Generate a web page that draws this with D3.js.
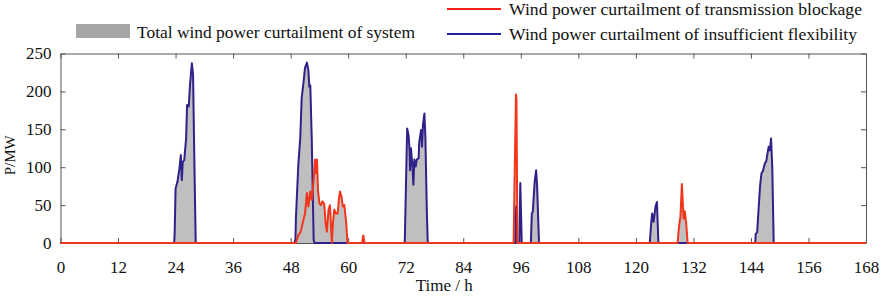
<!DOCTYPE html>
<html>
<head>
<meta charset="utf-8">
<script src="https://cdn.jsdelivr.net/npm/d3@7"></script>
<style>
    body { margin: 0; background: #fff; }
    #chart-area { width: 886px; height: 297px; }
    text { font-family: "Liberation Serif", "Times New Roman", serif; fill: #111; }
</style>
</head>
<body>
<div id="chart-area"></div>
<script>
// x ticks (hours) and y ticks (MW)
const xTicks = [0, 12, 24, 36, 48, 60, 72, 84, 96, 108, 120, 132, 144, 156, 168];
const yTicks = [0, 50, 100, 150, 200, 250];

// wind power curtailment of insufficient flexibility: [hour, MW]
const flexData = [
    [0, 0],
    [23.7, 0], [23.8, 10], [24.0, 72], [24.4, 81], [24.8, 98], [25.1, 116], [25.3, 83], [25.5, 107],
    [25.8, 109], [26.2, 138], [26.4, 182], [26.75, 180], [27.0, 208], [27.4, 237], [27.65, 222],
    [27.9, 116], [28.2, 0],
    [48.8, 0], [49.0, 5], [49.1, 33], [49.6, 103], [50.0, 138], [50.3, 191], [50.7, 213], [51.0, 231],
    [51.4, 238], [51.7, 228], [51.9, 206], [52.1, 208], [52.4, 138], [52.8, 4], [53.0, 0],
    [71.8, 0], [72.3, 151], [72.6, 142], [72.8, 123], [72.9, 96], [73.1, 125], [73.4, 101], [73.6, 77],
    [73.8, 110], [74.1, 101], [74.3, 110], [74.7, 112], [74.8, 132], [75.2, 149], [75.4, 127],
    [75.6, 156], [75.9, 171], [76.1, 140], [76.4, 44], [76.6, 0],
    [94.85, 0], [95.05, 48], [95.2, 0], [95.7, 0], [95.9, 79], [96.2, 0],
    [98.1, 0], [98.3, 39], [98.5, 41], [98.9, 81], [99.2, 96], [99.4, 76], [99.8, 0],
    [122.9, 0], [123.2, 26], [123.4, 39], [123.7, 28], [124.1, 48], [124.4, 54], [124.7, 0],
    [144.9, 0], [145.0, 12], [145.3, 14], [145.5, 35], [145.9, 75], [146.2, 92], [146.5, 95],
    [146.9, 105], [147.2, 108], [147.5, 120], [147.7, 127], [147.95, 122], [148.2, 138],
    [148.45, 100], [148.75, 0],
    [168, 0]
];

// wind power curtailment of transmission blockage: [hour, MW]
const blockData = [
    [0, 0],
    [49.07, 0], [49.6, 10], [50.1, 15], [50.5, 26], [51.0, 39], [51.4, 66], [51.7, 48], [52.1, 68],
    [52.4, 57], [52.8, 83], [53.1, 110], [53.3, 92], [53.5, 110], [53.7, 70], [54.0, 52], [54.3, 50],
    [54.6, 55], [55.0, 52], [55.3, 26], [55.55, 15], [55.9, 44], [56.2, 50], [56.6, 0], [56.8, 26],
    [57.1, 44], [57.4, 39], [57.8, 39], [58.05, 57], [58.3, 68], [58.6, 61], [58.9, 48], [59.2, 50],
    [59.6, 26], [59.85, 0],
    [62.9, 0], [63.15, 10], [63.4, 0],
    [94.5, 0], [94.8, 120], [95.0, 196], [95.1, 190], [95.3, 0],
    [128.7, 0], [129.0, 22], [129.3, 35], [129.6, 78], [129.95, 32], [130.2, 42], [130.5, 26], [130.8, 0],
    [168, 0]
];

const legendLabels = [
    "Total wind power curtailment of system",
    "Wind power curtailment of transmission blockage",
    "Wind power curtailment of insufficient flexibility"
];

class CurtailmentChart {
    constructor(parentElement) {
        this.parentElement = parentElement;
        this.initVis();
    }

    initVis() {
        let vis = this;

        vis.margin = {top: 53.5, right: 20, bottom: 54, left: 60.5};
        vis.width = 886 - vis.margin.left - vis.margin.right;
        vis.height = 297 - vis.margin.top - vis.margin.bottom;

        vis.root = d3.select("#" + vis.parentElement).append("svg")
            .attr("width", 886)
            .attr("height", 297);

        vis.svg = vis.root.append("g")
            .attr("transform", `translate(${vis.margin.left}, ${vis.margin.top})`);

        vis.x = d3.scaleLinear().domain([0, 168]).range([0, vis.width]);
        vis.y = d3.scaleLinear().domain([0, 250]).range([vis.height, 0]);

        vis.colors = {fill: "#bfbfbf", swatch: "#a6a6a6", red: "#f2361c", blue: "#2e2189", axis: "#555"};

        vis.drawAxes();
        vis.updateVis();
        vis.drawLegend();
    }

    drawAxes() {
        let vis = this;
        let fs = "17px";

        // bottom axis with labels, ticks pointing inward
        vis.svg.append("g")
            .attr("class", "x-axis")
            .attr("transform", `translate(0, ${vis.height})`)
            .call(d3.axisBottom(vis.x).tickValues(xTicks).tickSizeInner(-5).tickSizeOuter(0).tickPadding(18))
            .call(g => g.selectAll("text").style("font-size", fs));

        // top axis, ticks only
        vis.svg.append("g")
            .attr("class", "x-axis-top")
            .call(d3.axisTop(vis.x).tickValues(xTicks).tickSizeInner(-5).tickSizeOuter(0).tickFormat(""));

        // left axis
        vis.svg.append("g")
            .attr("class", "y-axis")
            .call(d3.axisLeft(vis.y).tickValues(yTicks).tickSizeInner(-5).tickSizeOuter(0).tickPadding(9))
            .call(g => g.selectAll("text").style("font-size", fs));

        // right axis, ticks only
        vis.svg.append("g")
            .attr("class", "y-axis-right")
            .attr("transform", `translate(${vis.width}, 0)`)
            .call(d3.axisRight(vis.y).tickValues(yTicks).tickSizeInner(-5).tickSizeOuter(0).tickFormat(""));

        vis.svg.selectAll(".domain, .tick line").attr("stroke", vis.colors.axis);

        // axis titles
        vis.svg.append("text")
            .attr("x", vis.width / 2 - 19)
            .attr("y", vis.height + 48)
            .attr("text-anchor", "middle")
            .style("font-size", "17px")
            .text("Time / h");

        vis.svg.append("text")
            .attr("transform", `translate(${10 - vis.margin.left}, ${vis.height / 2 + 7}) rotate(-90)`)
            .attr("text-anchor", "middle")
            .attr("dy", "0.35em")
            .style("font-size", "15px")
            .text("P/MW");
    }

    updateVis() {
        let vis = this;

        let area = d3.area()
            .x(d => vis.x(d[0]))
            .y0(vis.y(0))
            .y1(d => vis.y(d[1]));

        let line = d3.line()
            .x(d => vis.x(d[0]))
            .y(d => vis.y(d[1]));

        // total curtailment = envelope of both series, drawn as two gray areas
        vis.svg.selectAll(".total-area")
            .data([flexData, blockData])
            .enter()
            .append("path")
            .attr("class", "total-area")
            .attr("d", area)
            .attr("fill", vis.colors.fill);

        vis.svg.append("path")
            .datum(flexData)
            .attr("d", line)
            .attr("fill", "none")
            .attr("stroke", vis.colors.blue)
            .attr("stroke-width", 2)
            .attr("stroke-linejoin", "round");

        vis.svg.append("path")
            .datum(blockData)
            .attr("d", line)
            .attr("fill", "none")
            .attr("stroke", vis.colors.red)
            .attr("stroke-width", 2)
            .attr("stroke-linejoin", "round");
    }

    drawLegend() {
        let vis = this;
        let lg = vis.root.append("g").attr("class", "legend");

        lg.append("rect")
            .attr("x", 76).attr("y", 24)
            .attr("width", 54).attr("height", 14)
            .attr("fill", vis.colors.swatch);
        lg.append("text")
            .attr("x", 137).attr("y", 38)
            .attr("textLength", 278)
            .attr("lengthAdjust", "spacingAndGlyphs")
            .style("font-size", "17px")
            .text(legendLabels[0]);

        let rows = [
            {label: legendLabels[1], color: "#ff1f1a", y: 9, len: 353},
            {label: legendLabels[2], color: "#24209a", y: 34, len: 348}
        ];
        rows.forEach(r => {
            lg.append("line")
                .attr("x1", 447).attr("x2", 501)
                .attr("y1", r.y).attr("y2", r.y)
                .attr("stroke", r.color)
                .attr("stroke-width", 2);
            lg.append("text")
                .attr("x", 509).attr("y", r.y + 6)
                .attr("textLength", r.len)
                .attr("lengthAdjust", "spacingAndGlyphs")
                .style("font-size", "16.5px")
                .text(r.label);
        });
    }
}

new CurtailmentChart("chart-area");
</script>
</body>
</html>
